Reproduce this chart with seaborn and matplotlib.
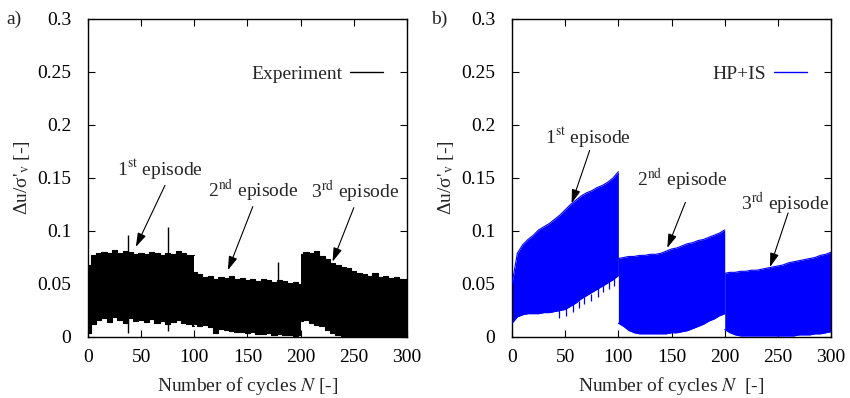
import numpy as np
import pandas as pd
import matplotlib
matplotlib.use("Agg")
import matplotlib.pyplot as plt
import seaborn as sns

# Cycle grid: each 100-cycle episode sampled every 5 cycles
episode_starts = [0, 100, 200]
cycle_steps = np.arange(0, 101, 5)

# Experiment: upper / lower envelope of the pore pressure ratio per episode
exp_upper_1 = [0.068, 0.077, 0.079, 0.080, 0.079, 0.082, 0.079, 0.081, 0.080, 0.078, 0.079,
               0.078, 0.080, 0.079, 0.077, 0.079, 0.078, 0.081, 0.079, 0.077, 0.077]
exp_lower_1 = [0.004, 0.012, 0.016, 0.018, 0.014, 0.019, 0.016, 0.013, 0.018, 0.015, 0.016,
               0.014, 0.017, 0.013, 0.015, 0.012, 0.014, 0.016, 0.013, 0.012, 0.010]
exp_upper_2 = [0.061, 0.059, 0.057, 0.058, 0.055, 0.057, 0.056, 0.058, 0.055, 0.056, 0.054,
               0.055, 0.053, 0.055, 0.054, 0.052, 0.054, 0.053, 0.051, 0.052, 0.050]
exp_lower_2 = [0.012, 0.010, 0.011, 0.009, 0.004, 0.008, 0.007, 0.006, 0.005, 0.005, 0.004,
               0.005, 0.003, 0.003, 0.004, 0.002, 0.003, 0.002, 0.002, 0.001, 0.002]
exp_upper_3 = [0.078, 0.080, 0.079, 0.081, 0.076, 0.074, 0.070, 0.068, 0.066, 0.065, 0.062,
               0.060, 0.059, 0.058, 0.060, 0.057, 0.058, 0.056, 0.057, 0.055, 0.055]
exp_lower_3 = [0.015, 0.016, 0.013, 0.011, 0.010, 0.007, 0.004, 0.002, 0.001, 0.001, 0.000,
               0.000, 0.000, 0.000, 0.000, 0.000, 0.000, 0.000, 0.000, 0.000, 0.000]
# Single cycles with larger amplitude in the experiment
exp_spike_n = [37.5, 75, 179]
exp_spike_top = [0.096, 0.104, 0.071]
exp_spike_bottom = [0.004, 0.006, 0.003]

# HP+IS simulation: upper / lower envelope per episode
sim_upper_1 = [0.050, 0.079, 0.087, 0.092, 0.096, 0.101, 0.104, 0.107, 0.111, 0.115, 0.120,
               0.125, 0.129, 0.133, 0.136, 0.138, 0.141, 0.143, 0.146, 0.150, 0.156]
sim_lower_1 = [0.013, 0.019, 0.021, 0.022, 0.022, 0.022, 0.023, 0.023, 0.024, 0.025, 0.026,
               0.029, 0.032, 0.036, 0.039, 0.042, 0.045, 0.048, 0.051, 0.054, 0.058]
sim_upper_2 = [0.074, 0.075, 0.076, 0.076, 0.077, 0.077, 0.078, 0.078, 0.079, 0.081, 0.083,
               0.084, 0.086, 0.088, 0.089, 0.091, 0.092, 0.094, 0.096, 0.098, 0.101]
sim_lower_2 = [0.013, 0.010, 0.006, 0.004, 0.003, 0.003, 0.003, 0.003, 0.003, 0.003, 0.004,
               0.004, 0.005, 0.006, 0.008, 0.010, 0.012, 0.015, 0.017, 0.020, 0.022]
sim_upper_3 = [0.060, 0.061, 0.061, 0.062, 0.062, 0.063, 0.063, 0.064, 0.065, 0.066, 0.067,
               0.068, 0.070, 0.071, 0.072, 0.073, 0.074, 0.075, 0.077, 0.078, 0.080]
sim_lower_3 = [0.007, 0.004, 0.002, 0.001, 0.001, 0.001, 0.001, 0.001, 0.001, 0.001, 0.001,
               0.001, 0.001, 0.001, 0.002, 0.002, 0.002, 0.003, 0.003, 0.004, 0.005]
# Cycles in the first episode whose minimum dips below the envelope
sim_dip_n = [44, 51, 57, 63, 68, 74, 81, 86, 91, 96]
sim_dip_bottom = [0.018, 0.020, 0.024, 0.027, 0.031, 0.034, 0.038, 0.042, 0.045, 0.048]

# Annotation texts, label centres and arrows (start -> tip)
episode_labels = [r"1$^\mathrm{st}$ episode", r"2$^\mathrm{nd}$ episode", r"3$^\mathrm{rd}$ episode"]
exp_label_pos = [(68, 0.1575), (155, 0.138), (251, 0.137)]
exp_arrows = [((72.4, 0.143), (45, 0.085)), ((155, 0.123), (131.6, 0.063)), ((250, 0.122), (230, 0.071))]
sim_label_pos = [(71.5, 0.188), (160, 0.148), (257, 0.126)]
sim_arrows = [((73, 0.176), (56, 0.126)), ((163, 0.127), (146, 0.084)), ((259.6, 0.117), (242.6, 0.066))]

x_ticks = [0, 50, 100, 150, 200, 250, 300]
y_ticks = [0, 0.05, 0.1, 0.15, 0.2, 0.25, 0.3]
y_tick_labels = ["0", "0.05", "0.1", "0.15", "0.2", "0.25", "0.3"]


def episode_frame(uppers, lowers):
    rows = []
    for k, (up, lo) in enumerate(zip(uppers, lowers)):
        rows.append(pd.DataFrame({"N": cycle_steps + episode_starts[k],
                                  "upper": up, "lower": lo, "episode": k + 1}))
    return pd.concat(rows, ignore_index=True)


exp_df = episode_frame([exp_upper_1, exp_upper_2, exp_upper_3],
                       [exp_lower_1, exp_lower_2, exp_lower_3])
sim_df = episode_frame([sim_upper_1, sim_upper_2, sim_upper_3],
                       [sim_lower_1, sim_lower_2, sim_lower_3])

sns.set_theme(style="ticks")
plt.rcParams["font.family"] = ["Liberation Serif", "DejaVu Serif"]
plt.rcParams["mathtext.fontset"] = "stix"
FS = 14

fig = plt.figure(figsize=(8.5, 3.98), dpi=100)
ax_a = fig.add_axes([0.1035, 0.1533, 0.3753, 0.7990])
ax_b = fig.add_axes([0.6024, 0.1533, 0.3753, 0.7990])


def draw_panel(ax, df, color, label, label_pos, arrows, letter, xlabel, stepped):
    step = "mid" if stepped else None
    dstyle = "steps-mid" if stepped else "default"
    for ep, sub in df.groupby("episode"):
        ax.fill_between(sub["N"], sub["lower"], sub["upper"], color=color, lw=0,
                        step=step, zorder=2)
        sns.lineplot(data=sub, x="N", y="upper", color=color, lw=0.8, ax=ax,
                     drawstyle=dstyle, label=label if ep == 1 else None, zorder=3)
        sns.lineplot(data=sub, x="N", y="lower", color=color, lw=0.8, ax=ax,
                     drawstyle=dstyle, legend=False, zorder=3)
    ax.set_xlim(0, 300)
    ax.set_ylim(0, 0.3)
    ax.set_xticks(x_ticks)
    ax.set_xticklabels([str(t) for t in x_ticks], fontsize=FS)
    ax.set_yticks(y_ticks)
    ax.set_yticklabels(y_tick_labels, fontsize=FS)
    ax.tick_params(direction="in", length=5, width=0.8, top=True, right=True,
                   colors="black")
    ax.tick_params(axis="x", pad=9)
    ax.tick_params(axis="y", pad=12)
    for sp in ax.spines.values():
        sp.set_visible(True)
        sp.set_linewidth(1.0)
        sp.set_color("black")
    ax.set_xlabel(xlabel, fontsize=FS, labelpad=6)
    ax.set_ylabel("Δu/σ'$_\\mathrm{v}$ [-]", fontsize=FS, labelpad=4)
    for txt, (x, y) in zip(episode_labels, label_pos):
        ax.text(x, y, txt, fontsize=FS, ha="center", va="center", zorder=5)
    for start, tip in arrows:
        ax.annotate("", xy=tip, xytext=start,
                    arrowprops=dict(arrowstyle="-|>,head_length=0.7,head_width=0.22",
                                    color="black", lw=0.8, shrinkA=0, shrinkB=0),
                    zorder=6)
    leg = ax.legend(loc="center right", bbox_to_anchor=(0.925, 0.827), frameon=False,
                    markerfirst=False, handlelength=1.7, handletextpad=0.4,
                    borderpad=0, borderaxespad=0, fontsize=FS)
    for h in leg.get_lines():
        h.set_linewidth(1.0)
        h.set_drawstyle("default")
    ax.text(-0.255, 1.0, letter, transform=ax.transAxes, fontsize=FS,
            ha="left", va="center")


draw_panel(ax_a, exp_df, "black", "Experiment", exp_label_pos, exp_arrows, "a)",
           r"Number of cycles $N$ [-]", stepped=True)
ax_a.vlines(exp_spike_n, exp_spike_bottom, exp_spike_top, color="black", lw=1.0, zorder=3)

draw_panel(ax_b, sim_df, "#0000ff", "HP+IS", sim_label_pos, sim_arrows, "b)",
           r"Number of cycles $N$  [-]", stepped=False)
ax_b.vlines(sim_dip_n, sim_dip_bottom, [sim_lower_1[n // 5] + 0.002 for n in sim_dip_n],
            color="#0000ff", lw=0.9, zorder=3)

fig.savefig("out.png", dpi=100)
